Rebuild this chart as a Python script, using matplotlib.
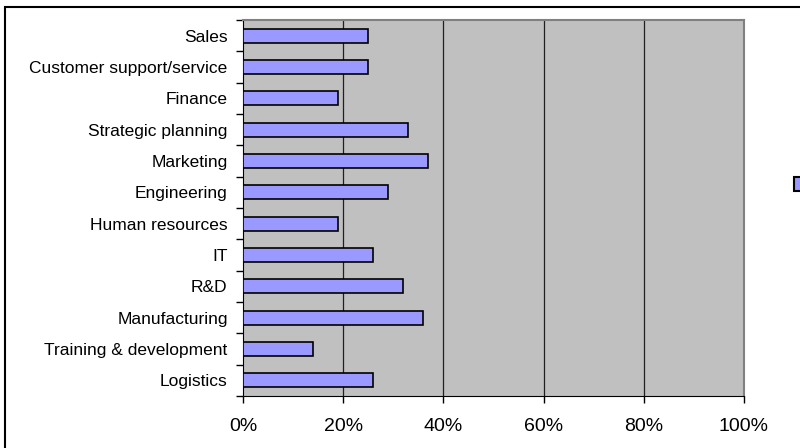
import numpy as np
import matplotlib.pyplot as plt
from matplotlib.patches import Rectangle, Patch
from matplotlib.ticker import FixedLocator, NullFormatter

categories = ['Sales', 'Customer support/service', 'Finance', 'Strategic planning',
              'Marketing', 'Engineering', 'Human resources', 'IT', 'R&D',
              'Manufacturing', 'Training & development', 'Logistics']
values = [25, 25, 19, 33, 37, 29, 19, 26, 32, 36, 14, 26]
xticks = [0, 20, 40, 60, 80, 100]

plt.rcParams['font.family'] = ['Liberation Sans', 'DejaVu Sans']

W, H = 800, 448
fig = plt.figure(figsize=(W / 100, H / 100), dpi=100)
ax = fig.add_axes([243 / W, 1 - 396 / H, (744 - 243) / W, (396 - 20) / H])

# outer chart border (runs off the right and bottom edges)
fig.patches.append(Rectangle((5 / W, -0.1), 1.2, 1 - 7 / H + 0.1, transform=fig.transFigure,
                             fill=False, edgecolor='black', lw=1.5, zorder=0))

ax.set_facecolor('#C0C0C0')
n = len(categories)
ypos = np.arange(n)
bars = ax.barh(ypos, values, height=0.44, color='#9999FF', edgecolor='black', lw=1.2, zorder=3)

ax.set_xlim(0, 100)
ax.set_ylim(n - 0.5, -0.5)

# vertical gridlines
for x in xticks[1:-1]:
    ax.axvline(x, color='#202020', lw=0.9, zorder=1)

ax.set_xticks(xticks)
ax.set_xticklabels([f'{x}%' for x in xticks], fontsize=14)
ax.tick_params(axis='x', length=5, width=1, pad=11, color='black')

# category labels centered on bars, tick marks between categories
ax.yaxis.set_major_locator(FixedLocator(np.arange(n + 1) - 0.5))
ax.yaxis.set_major_formatter(NullFormatter())
ax.yaxis.set_minor_locator(FixedLocator(ypos))
ax.set_yticklabels(categories, minor=True, fontsize=12.5)
ax.tick_params(axis='y', which='major', length=5, width=1, color='black')
ax.tick_params(axis='y', which='minor', length=0, pad=11)

for side in ['top', 'right']:
    ax.spines[side].set_color('#808080')
    ax.spines[side].set_linewidth(1.5)
ax.spines['left'].set_color('black')
ax.spines['bottom'].set_color('black')

# legend with only the marker (cut by the right edge, as in the original)
handle = Patch(facecolor='#9999FF', edgecolor='black', lw=1.5)
fig.legend([handle], [''], loc='center left', bbox_to_anchor=(794 / W, 1 - 184 / H),
           frameon=False, borderpad=0, borderaxespad=0, handlelength=0.8,
           handleheight=1.2, handletextpad=0.2, fontsize=10)

fig.savefig('out.png', dpi=100)
